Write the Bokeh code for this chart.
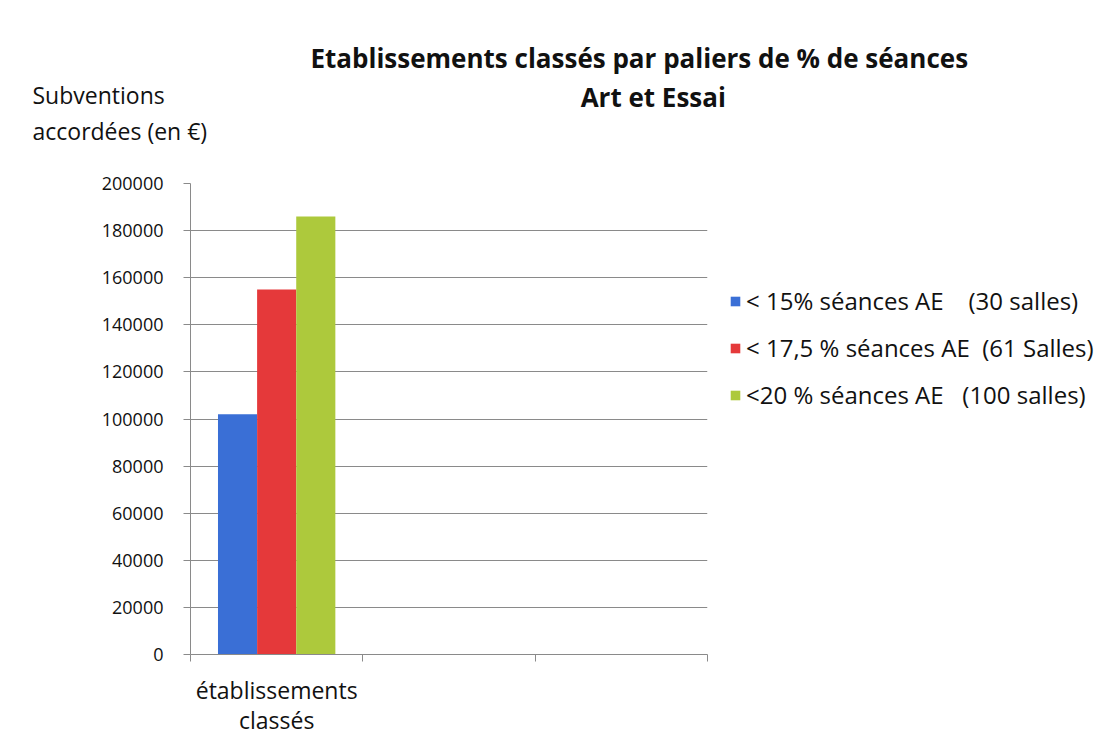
from bokeh.plotting import figure
from bokeh.models import (Range1d, FixedTicker, PrintfTickFormatter, Title, Legend,
                          LegendItem, ColumnDataSource)
from bokeh.transform import dodge
from bokeh.embed import file_html
from bokeh.resources import INLINE

# ---- data ----
categories = ["établissements\nclassés"]
series_names = ["< 15% séances AE\u00a0\u00a0\u00a0\u00a0(30 salles)",
                "< 17,5 % séances AE\u00a0\u00a0(61 Salles)",
                "<20 % séances AE\u00a0\u00a0\u00a0(100 salles)"]
values_15 = [102000]
values_175 = [155000]
values_20 = [186000]
series_colors = ["#3a6fd6", "#e5393a", "#adc93c"]
y_ticks = list(range(0, 200001, 20000))
n_slots = 3
title_lines = ["Etablissements classés par paliers de % de séances", "Art et Essai"]
ylabel_text = "Subventions\naccordées (en €)"

FONT = "Open Sans"
GRID = "#8a8a8a"
TXT = "#111111"

p = figure(frame_width=517, frame_height=471, output_backend="svg", toolbar_location=None,
           x_range=Range1d(0, n_slots), y_range=Range1d(0, 200000),
           min_border_left=190, min_border_right=0, min_border_top=183,
           min_border_bottom=60, background_fill_color="white",
           border_fill_color="white")
p.outline_line_color = None

cat_pos = [i + 0.5 for i in range(len(categories))]
src = ColumnDataSource(dict(x=cat_pos, v15=values_15, v175=values_175, v20=values_20))
bw = 0.227
renderers = []
for off, col, c in zip([-bw, 0.0, bw], ["v15", "v175", "v20"], series_colors):
    r = p.vbar(x=dodge("x", off, range=p.x_range), top=col, width=bw, bottom=0,
               source=src, fill_color=c, line_color=None)
    renderers.append(r)

# axes
p.yaxis.ticker = FixedTicker(ticks=y_ticks)
p.yaxis.formatter = PrintfTickFormatter(format="%d")
p.yaxis.axis_line_color = GRID
p.yaxis.major_tick_line_color = GRID
p.yaxis.major_tick_in = 0
p.yaxis.major_tick_out = 7
p.yaxis.minor_tick_line_color = None
p.yaxis.major_label_text_font = FONT
p.yaxis.major_label_text_font_size = "18px"
p.yaxis.major_label_text_color = TXT
p.yaxis.major_label_standoff = 20

p.xaxis.ticker = FixedTicker(ticks=cat_pos, minor_ticks=list(range(n_slots + 1)))
p.xaxis.major_label_overrides = {pos: c for pos, c in zip(cat_pos, categories)}
p.xaxis.axis_line_color = GRID
p.xaxis.major_tick_line_color = None
p.xaxis.major_tick_out = 0
p.xaxis.major_tick_in = 0
p.xaxis.minor_tick_line_color = GRID
p.xaxis.minor_tick_in = 0
p.xaxis.minor_tick_out = 7
p.xaxis.major_label_text_font = FONT
p.xaxis.major_label_text_font_size = "23px"
p.xaxis.major_label_text_line_height = 0.96
p.xaxis.major_label_text_color = TXT
p.xaxis.major_label_standoff = 12

p.xgrid.grid_line_color = None
p.ygrid.ticker = FixedTicker(ticks=y_ticks)
p.ygrid.grid_line_color = GRID
p.ygrid.grid_line_width = 1

# stacked titles: nearest the frame first
p.add_layout(Title(text=ylabel_text, align="left", offset=-158, standoff=72,
                   text_font=FONT, text_font_size="23px", text_font_style="normal",
                   text_color=TXT, text_line_height=1.15), "above")
pad = "\u00a0" * 40
main_title = title_lines[0] + "\n" + pad + title_lines[1]
p.add_layout(Title(text=main_title, align="left", offset=120, standoff=-149,
                   text_font=FONT, text_font_size="26px", text_font_style="bold",
                   text_color=TXT, text_line_height=1.08), "above")

legend = Legend(items=[LegendItem(label=n, renderers=[r]) for n, r in zip(series_names, renderers)],
                location=(22, 243), orientation="vertical")
legend.padding = 0
legend.margin = 0
legend.border_line_color = None
legend.background_fill_alpha = 0
legend.glyph_width = 12
legend.glyph_height = 12
legend.label_height = 20
legend.spacing = 14
legend.label_standoff = 5
legend.label_text_font = FONT
legend.label_text_font_size = "24px"
legend.label_text_color = TXT
p.add_layout(legend, "right")

open("out.html", "w").write(file_html(p, INLINE))
